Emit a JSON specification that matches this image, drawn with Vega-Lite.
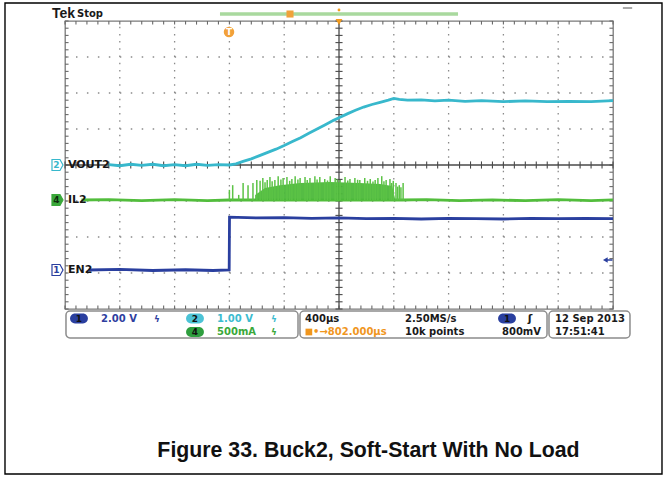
{
"$schema": "https://vega.github.io/schema/vega-lite/v6.json",
"width": 548, "height": 288,
"autosize": {"type": "none"},
"padding": {"left": 65, "top": 21, "right": 55, "bottom": 170},
"background": "#ffffff",
"config": {"view": {"stroke": "#7a7a7a", "strokeWidth": 1.3}},
"datasets": {
"gx": [{"g":-4},{"g":-3},{"g":-2},{"g":-1},{"g":1},{"g":2},{"g":3},{"g":4}],
"gy": [{"g":-3},{"g":-2},{"g":-1},{"g":1},{"g":2},{"g":3}],
"tx": [{"p":-5},{"p":-4.8},{"p":-4.6},{"p":-4.4},{"p":-4.2},{"p":-4},{"p":-3.8},{"p":-3.6},{"p":-3.4},{"p":-3.2},{"p":-3},{"p":-2.8},{"p":-2.6},{"p":-2.4},{"p":-2.2},{"p":-2},{"p":-1.8},{"p":-1.6},{"p":-1.4},{"p":-1.2},{"p":-1},{"p":-0.8},{"p":-0.6},{"p":-0.4},{"p":-0.2},{"p":0},{"p":0.2},{"p":0.4},{"p":0.6},{"p":0.8},{"p":1},{"p":1.2},{"p":1.4},{"p":1.6},{"p":1.8},{"p":2},{"p":2.2},{"p":2.4},{"p":2.6},{"p":2.8},{"p":3},{"p":3.2},{"p":3.4},{"p":3.6},{"p":3.8},{"p":4},{"p":4.2},{"p":4.4},{"p":4.6},{"p":4.8},{"p":5}],
"ty": [{"q":-4},{"q":-3.8},{"q":-3.6},{"q":-3.4},{"q":-3.2},{"q":-3},{"q":-2.8},{"q":-2.6},{"q":-2.4},{"q":-2.2},{"q":-2},{"q":-1.8},{"q":-1.6},{"q":-1.4},{"q":-1.2},{"q":-1},{"q":-0.8},{"q":-0.6},{"q":-0.4},{"q":-0.2},{"q":0},{"q":0.2},{"q":0.4},{"q":0.6},{"q":0.8},{"q":1},{"q":1.2},{"q":1.4},{"q":1.6},{"q":1.8},{"q":2},{"q":2.2},{"q":2.4},{"q":2.6},{"q":2.8},{"q":3},{"q":3.2},{"q":3.4},{"q":3.6},{"q":3.8},{"q":4}],
"vout": [{"t":-4.2,"v":0.01},{"t":-4.0,"v":-0.02},{"t":-3.8,"v":0.02},{"t":-3.6,"v":-0.01},{"t":-3.4,"v":0.02},{"t":-3.2,"v":-0.02},{"t":-3.0,"v":0.01},{"t":-2.8,"v":-0.02},{"t":-2.6,"v":0.02},{"t":-2.4,"v":-0.01},{"t":-2.2,"v":0.01},{"t":-2.0,"v":0},{"t":-1.88,"v":0.03},{"t":-1.75,"v":0.1},{"t":-1.6,"v":0.17},{"t":-1.45,"v":0.26},{"t":-1.3,"v":0.35},{"t":-1.15,"v":0.44},{"t":-1.0,"v":0.54},{"t":-0.85,"v":0.65},{"t":-0.7,"v":0.76},{"t":-0.55,"v":0.88},{"t":-0.4,"v":1.0},{"t":-0.25,"v":1.12},{"t":-0.1,"v":1.24},{"t":0,"v":1.31},{"t":0.15,"v":1.42},{"t":0.3,"v":1.52},{"t":0.45,"v":1.61},{"t":0.6,"v":1.68},{"t":0.75,"v":1.74},{"t":0.9,"v":1.8},{"t":1.0,"v":1.85},{"t":1.1,"v":1.82},{"t":1.25,"v":1.8},{"t":1.5,"v":1.81},{"t":1.75,"v":1.78},{"t":2.0,"v":1.8},{"t":2.3,"v":1.77},{"t":2.6,"v":1.79},{"t":3.0,"v":1.76},{"t":3.4,"v":1.78},{"t":3.8,"v":1.76},{"t":4.2,"v":1.77},{"t":4.6,"v":1.76},{"t":5.0,"v":1.79}],
"il": [{"t":-4.7,"v":-0.972},{"t":-4.2,"v":-0.96},{"t":-3.6,"v":-0.99},{"t":-3.0,"v":-0.96},{"t":-2.4,"v":-0.99},{"t":-2.0,"v":-0.972},{"t":1.15,"v":-0.972},{"t":1.6,"v":-0.96},{"t":2.2,"v":-0.99},{"t":2.8,"v":-0.97},{"t":3.4,"v":-0.99},{"t":4.0,"v":-0.96},{"t":4.6,"v":-0.99},{"t":5.0,"v":-0.97}],
"burst": [{"t":-1.53,"v":-0.83},{"t":-1.35,"v":-0.64},{"t":-1.08,"v":-0.56},{"t":-0.71,"v":-0.5},{"t":-0.16,"v":-0.47},{"t":0.38,"v":-0.5},{"t":0.75,"v":-0.53},{"t":0.97,"v":-0.58},{"t":1.02,"v":-0.92}],
"spk": [{"t":-2.0,"v":-0.69},{"t":-1.94,"v":-0.56},{"t":-1.83,"v":-0.83},{"t":-1.75,"v":-0.5},{"t":-1.66,"v":-0.56},{"t":-1.57,"v":-0.5},{"t":-1.5,"v":-0.42},{"t":-1.44,"v":-0.44},{"t":-1.39,"v":-0.36},{"t":-1.35,"v":-0.48},{"t":-1.31,"v":-0.42},{"t":-1.26,"v":-0.33},{"t":-1.22,"v":-0.45},{"t":-1.17,"v":-0.42},{"t":-1.11,"v":-0.31},{"t":-1.06,"v":-0.4},{"t":-1.02,"v":-0.36},{"t":-0.95,"v":-0.33},{"t":-0.9,"v":-0.44},{"t":-0.86,"v":-0.39},{"t":-0.8,"v":-0.31},{"t":-0.75,"v":-0.4},{"t":-0.71,"v":-0.36},{"t":-0.62,"v":-0.33},{"t":-0.58,"v":-0.42},{"t":-0.53,"v":-0.36},{"t":-0.44,"v":-0.31},{"t":-0.4,"v":-0.4},{"t":-0.35,"v":-0.33},{"t":-0.26,"v":-0.39},{"t":-0.21,"v":-0.43},{"t":-0.16,"v":-0.31},{"t":-0.07,"v":-0.36},{"t":-0.03,"v":-0.4},{"t":0.02,"v":-0.42},{"t":0.11,"v":-0.33},{"t":0.16,"v":-0.43},{"t":0.2,"v":-0.39},{"t":0.29,"v":-0.36},{"t":0.34,"v":-0.41},{"t":0.38,"v":-0.42},{"t":0.47,"v":-0.36},{"t":0.52,"v":-0.44},{"t":0.57,"v":-0.39},{"t":0.62,"v":-0.46},{"t":0.66,"v":-0.42},{"t":0.71,"v":-0.36},{"t":0.78,"v":-0.31},{"t":0.82,"v":-0.45},{"t":0.86,"v":-0.42},{"t":0.93,"v":-0.39},{"t":0.96,"v":-0.5},{"t":0.99,"v":-0.44},{"t":1.04,"v":-0.5},{"t":1.07,"v":-0.6},{"t":1.1,"v":-0.56},{"t":1.13,"v":-0.62},{"t":1.17,"v":-0.5}],
"en": [{"t":-4.57,"v":-2.917},{"t":-4.0,"v":-2.9},{"t":-3.4,"v":-2.93},{"t":-2.8,"v":-2.91},{"t":-2.3,"v":-2.93},{"t":-2.004,"v":-2.917},{"t":-1.998,"v":-1.45},{"t":-1.5,"v":-1.47},{"t":-1.0,"v":-1.46},{"t":-0.5,"v":-1.48},{"t":0,"v":-1.47},{"t":0.5,"v":-1.49},{"t":1,"v":-1.48},{"t":1.5,"v":-1.5},{"t":2,"v":-1.48},{"t":2.5,"v":-1.49},{"t":3,"v":-1.5},{"t":3.5,"v":-1.48},{"t":4,"v":-1.49},{"t":4.5,"v":-1.48},{"t":5.0,"v":-1.49}],
"chan": [{"ch":"2","name":"VOUT2","lvl":0},{"ch":"4","name":"IL2","lvl":-0.972},{"ch":"1","name":"EN2","lvl":-2.917}]
},
"layer": [
{"data":{"name":"gx"},"mark":{"type":"rule","color":"#8a8a8a","strokeWidth":1.3,"strokeDash":[1.5,5.7]},
 "encoding":{"x":{"field":"g","type":"quantitative","scale":{"domain":[-5,5],"nice":false,"zero":false},"axis":null},
  "y":{"datum":-4,"scale":{"domain":[-4,4],"nice":false,"zero":false},"axis":null},"y2":{"datum":4}}},
{"data":{"name":"gy"},"mark":{"type":"rule","color":"#8a8a8a","strokeWidth":1.3,"strokeDash":[1.5,9.46]},
 "encoding":{"y":{"field":"g","type":"quantitative","axis":null},"x":{"datum":-5,"axis":null},"x2":{"datum":5}}},
{"data":{"name":"tx"},"mark":{"type":"rule","color":"#4a4a4a","strokeWidth":1.1},
 "encoding":{"x":{"field":"p","type":"quantitative","axis":null},"y":{"datum":-0.1,"axis":null},"y2":{"datum":0.1}}},
{"data":{"name":"tx"},"mark":{"type":"rule","color":"#6a6a6a","strokeWidth":1.1},
 "encoding":{"x":{"field":"p","type":"quantitative","axis":null},"y":{"datum":3.9,"axis":null},"y2":{"datum":4}}},
{"data":{"name":"tx"},"mark":{"type":"rule","color":"#6a6a6a","strokeWidth":1.1},
 "encoding":{"x":{"field":"p","type":"quantitative","axis":null},"y":{"datum":-4,"axis":null},"y2":{"datum":-3.9}}},
{"data":{"name":"ty"},"mark":{"type":"rule","color":"#4a4a4a","strokeWidth":1.1},
 "encoding":{"y":{"field":"q","type":"quantitative","axis":null},"x":{"datum":-0.065,"axis":null},"x2":{"datum":0.065}}},
{"data":{"name":"ty"},"mark":{"type":"rule","color":"#6a6a6a","strokeWidth":1.1},
 "encoding":{"y":{"field":"q","type":"quantitative","axis":null},"x":{"datum":-5,"axis":null},"x2":{"datum":-4.935}}},
{"data":{"name":"ty"},"mark":{"type":"rule","color":"#6a6a6a","strokeWidth":1.1},
 "encoding":{"y":{"field":"q","type":"quantitative","axis":null},"x":{"datum":4.935,"axis":null},"x2":{"datum":5}}},
{"data":{"values":[{}]},"mark":{"type":"rule","color":"#4a4a4a","strokeWidth":1.3},
 "encoding":{"x":{"datum":-5,"axis":null},"x2":{"datum":5},"y":{"datum":0,"axis":null}}},
{"data":{"values":[{}]},"mark":{"type":"rule","color":"#4a4a4a","strokeWidth":1.3},
 "encoding":{"y":{"datum":-4,"axis":null},"y2":{"datum":4},"x":{"datum":0,"axis":null}}},
{"data":{"name":"en"},"mark":{"type":"line","color":"#2a3f9f","strokeWidth":2.8},
 "encoding":{"x":{"field":"t","type":"quantitative","axis":null},"y":{"field":"v","type":"quantitative","axis":null}}},
{"data":{"name":"il"},"mark":{"type":"line","color":"#52bd3c","strokeWidth":2.8},
 "encoding":{"x":{"field":"t","type":"quantitative","axis":null},"y":{"field":"v","type":"quantitative","axis":null}}},
{"data":{"name":"burst"},"mark":{"type":"area","color":"#4cb83a","opacity":0.95},
 "encoding":{"x":{"field":"t","type":"quantitative","axis":null},"y":{"field":"v","type":"quantitative","axis":null},"y2":{"datum":-0.972}}},
{"data":{"name":"spk"},"mark":{"type":"rule","color":"#5cc346","strokeWidth":1.5},
 "encoding":{"x":{"field":"t","type":"quantitative","axis":null},"y":{"field":"v","type":"quantitative","axis":null},"y2":{"datum":-0.972}}},
{"data":{"name":"vout"},"mark":{"type":"line","color":"#38b8cc","strokeWidth":2.8},
 "encoding":{"x":{"field":"t","type":"quantitative","axis":null},"y":{"field":"v","type":"quantitative","axis":null}}},
{"data":{"name":"chan"},"mark":{"type":"point","shape":"M-1,-1L0.45,-1L1,0L0.45,1L-1,1Z","size":121,"filled":true,"strokeWidth":1.2,"opacity":1},
 "encoding":{"x":{"datum":-5.137,"axis":null},"y":{"field":"lvl","type":"quantitative","axis":null},
  "fill":{"field":"ch","type":"nominal","scale":{"domain":["1","2","4"],"range":["#ffffff","#ffffff","#3aa83a"]},"legend":null},
  "stroke":{"field":"ch","type":"nominal","scale":{"domain":["1","2","4"],"range":["#2a3f9f","#38b8cc","#3aa83a"]},"legend":null}}},
{"data":{"name":"chan"},"mark":{"type":"text","font":"DejaVu Sans","fontWeight":"bold","fontSize":9,"align":"center","baseline":"middle","dx":-1},
 "encoding":{"x":{"datum":-5.137,"axis":null},"y":{"field":"lvl","type":"quantitative","axis":null},"text":{"field":"ch"},
  "color":{"field":"ch","type":"nominal","scale":{"domain":["1","2","4"],"range":["#2a3f9f","#38b8cc","#0d2d0d"]},"legend":null}}},
{"data":{"name":"chan"},"mark":{"type":"text","font":"DejaVu Sans","fontWeight":"bold","fontSize":11,"align":"left","baseline":"middle","color":"#161616"},
 "encoding":{"x":{"datum":-4.945,"axis":null},"y":{"field":"lvl","type":"quantitative","axis":null},"text":{"field":"name"}}},
{"data":{"values":[{}]},"mark":{"type":"point","shape":"triangle-left","size":30,"filled":true,"color":"#2a3f9f","opacity":1},
 "encoding":{"x":{"datum":4.86,"axis":null},"y":{"datum":-2.639,"axis":null}}},
{"data":{"values":[{}]},"mark":{"type":"rule","color":"#2a3f9f","strokeWidth":1.5},
 "encoding":{"x":{"datum":4.86,"axis":null},"x2":{"datum":4.99},"y":{"datum":-2.639,"axis":null}}},
{"data":{"values":[{}]},"mark":{"type":"text","text":"Tek","font":"Liberation Sans","fontWeight":"bold","fontSize":14,"align":"left","baseline":"middle","color":"#1a1a1a"},
 "encoding":{"x":{"datum":-5.237,"axis":null},"y":{"datum":4.194,"axis":null}}},
{"data":{"values":[{}]},"mark":{"type":"text","text":"Stop","font":"DejaVu Sans","fontWeight":"bold","fontSize":10,"align":"left","baseline":"middle","color":"#1a1a1a"},
 "encoding":{"x":{"datum":-4.781,"axis":null},"y":{"datum":4.194,"axis":null}}},
{"data":{"values":[{}]},"mark":{"type":"rule","color":"#a9d99e","strokeWidth":3.5},
 "encoding":{"x":{"datum":-2.172,"axis":null},"x2":{"datum":2.172},"y":{"datum":4.194,"axis":null}}},
{"data":{"values":[{}]},"mark":{"type":"point","shape":"square","size":50,"filled":true,"color":"#f0a23a","opacity":1},
 "encoding":{"x":{"datum":-0.894,"axis":null},"y":{"datum":4.194,"axis":null}}},
{"data":{"values":[{}]},"mark":{"type":"point","shape":"triangle-down","size":45,"filled":true,"color":"#f39c1e","opacity":1},
 "encoding":{"x":{"datum":0,"axis":null},"y":{"datum":3.972,"axis":null}}},
{"data":{"values":[{}]},"mark":{"type":"point","shape":"circle","size":8,"filled":true,"color":"#f39c1e","opacity":1},
 "encoding":{"x":{"datum":0,"axis":null},"y":{"datum":4.306,"axis":null}}},
{"data":{"values":[{}]},"mark":{"type":"point","shape":"circle","size":110,"filled":true,"color":"#f2a13a","opacity":1},
 "encoding":{"x":{"datum":-2.007,"axis":null},"y":{"datum":3.694,"axis":null}}},
{"data":{"values":[{}]},"mark":{"type":"text","text":"T","font":"DejaVu Sans","fontWeight":"bold","fontSize":9,"align":"center","baseline":"middle","color":"#ffffff"},
 "encoding":{"x":{"datum":-2.007,"axis":null},"y":{"datum":3.694,"axis":null}}},
{"data":{"values":[{}]},"mark":{"type":"rule","color":"#8c8c8c","strokeWidth":1.5},
 "encoding":{"x":{"datum":5.18,"axis":null},"x2":{"datum":5.35},"y":{"datum":4.361,"axis":null}}},
{"data":{"values":[{}]},"mark":{"type":"rect","cornerRadius":4,"fill":"#ffffff","stroke":"#8c8c8c","strokeWidth":1.5},
 "encoding":{"x":{"datum":-4.982,"axis":null},"x2":{"datum":-0.748},"y":{"datum":-4.056,"axis":null},"y2":{"datum":-4.806}}},
{"data":{"values":[{}]},"mark":{"type":"rect","cornerRadius":4,"fill":"#ffffff","stroke":"#8c8c8c","strokeWidth":1.5},
 "encoding":{"x":{"datum":-0.712,"axis":null},"x2":{"datum":3.796},"y":{"datum":-4.056,"axis":null},"y2":{"datum":-4.806}}},
{"data":{"values":[{}]},"mark":{"type":"rect","cornerRadius":4,"fill":"#ffffff","stroke":"#8c8c8c","strokeWidth":1.5},
 "encoding":{"x":{"datum":3.832,"axis":null},"x2":{"datum":5.31},"y":{"datum":-4.056,"axis":null},"y2":{"datum":-4.806}}},
{"data":{"values":[{}]},"mark":{"type":"point","shape":"M-0.44,-0.55L0.44,-0.55A0.55,0.55,0,0,1,0.44,0.55L-0.44,0.55A0.55,0.55,0,0,1,-0.44,-0.55Z","size":324,"filled":true,"color":"#2a3f9f","opacity":1},
 "encoding":{"x":{"datum":-4.745,"axis":null},"y":{"datum":-4.264,"axis":null}}},
{"data":{"values":[{}]},"mark":{"type":"point","shape":"M-0.44,-0.55L0.44,-0.55A0.55,0.55,0,0,1,0.44,0.55L-0.44,0.55A0.55,0.55,0,0,1,-0.44,-0.55Z","size":324,"filled":true,"color":"#4cc3d6","opacity":1},
 "encoding":{"x":{"datum":-2.628,"axis":null},"y":{"datum":-4.264,"axis":null}}},
{"data":{"values":[{}]},"mark":{"type":"point","shape":"M-0.44,-0.55L0.44,-0.55A0.55,0.55,0,0,1,0.44,0.55L-0.44,0.55A0.55,0.55,0,0,1,-0.44,-0.55Z","size":324,"filled":true,"color":"#2e9e3e","opacity":1},
 "encoding":{"x":{"datum":-2.628,"axis":null},"y":{"datum":-4.639,"axis":null}}},
{"data":{"values":[{}]},"mark":{"type":"point","shape":"M-0.44,-0.55L0.44,-0.55A0.55,0.55,0,0,1,0.44,0.55L-0.44,0.55A0.55,0.55,0,0,1,-0.44,-0.55Z","size":324,"filled":true,"color":"#2a3f9f","opacity":1},
 "encoding":{"x":{"datum":3.066,"axis":null},"y":{"datum":-4.264,"axis":null}}},
{"data":{"values":[{}]},"mark":{"type":"text","text":"1","font":"DejaVu Sans","fontWeight":"bold","fontSize":9,"align":"center","baseline":"middle","color":"#111111"},
 "encoding":{"x":{"datum":-4.745,"axis":null},"y":{"datum":-4.264,"axis":null}}},
{"data":{"values":[{}]},"mark":{"type":"text","text":"2","font":"DejaVu Sans","fontWeight":"bold","fontSize":9,"align":"center","baseline":"middle","color":"#111111"},
 "encoding":{"x":{"datum":-2.628,"axis":null},"y":{"datum":-4.264,"axis":null}}},
{"data":{"values":[{}]},"mark":{"type":"text","text":"4","font":"DejaVu Sans","fontWeight":"bold","fontSize":9,"align":"center","baseline":"middle","color":"#111111"},
 "encoding":{"x":{"datum":-2.628,"axis":null},"y":{"datum":-4.639,"axis":null}}},
{"data":{"values":[{}]},"mark":{"type":"text","text":"1","font":"DejaVu Sans","fontWeight":"bold","fontSize":9,"align":"center","baseline":"middle","color":"#111111"},
 "encoding":{"x":{"datum":3.066,"axis":null},"y":{"datum":-4.264,"axis":null}}},
{"data":{"values":[{}]},"mark":{"type":"text","text":"2.00 V","font":"DejaVu Sans","fontWeight":"bold","fontSize":10,"align":"left","baseline":"middle","color":"#2f3f9f"},
 "encoding":{"x":{"datum":-4.343,"axis":null},"y":{"datum":-4.264,"axis":null}}},
{"data":{"values":[{}]},"mark":{"type":"text","text":"ϟ","font":"DejaVu Sans","fontWeight":"bold","fontSize":9,"align":"center","baseline":"middle","color":"#2f3f9f"},
 "encoding":{"x":{"datum":-3.321,"axis":null},"y":{"datum":-4.264,"axis":null}}},
{"data":{"values":[{}]},"mark":{"type":"text","text":"1.00 V","font":"DejaVu Sans","fontWeight":"bold","fontSize":10,"align":"left","baseline":"middle","color":"#3cbcd0"},
 "encoding":{"x":{"datum":-2.226,"axis":null},"y":{"datum":-4.264,"axis":null}}},
{"data":{"values":[{}]},"mark":{"type":"text","text":"ϟ","font":"DejaVu Sans","fontWeight":"bold","fontSize":9,"align":"center","baseline":"middle","color":"#3cbcd0"},
 "encoding":{"x":{"datum":-1.186,"axis":null},"y":{"datum":-4.264,"axis":null}}},
{"data":{"values":[{}]},"mark":{"type":"text","text":"500mA","font":"DejaVu Sans","fontWeight":"bold","fontSize":10,"align":"left","baseline":"middle","color":"#3aa83a"},
 "encoding":{"x":{"datum":-2.226,"axis":null},"y":{"datum":-4.639,"axis":null}}},
{"data":{"values":[{}]},"mark":{"type":"text","text":"ϟ","font":"DejaVu Sans","fontWeight":"bold","fontSize":9,"align":"center","baseline":"middle","color":"#3aa83a"},
 "encoding":{"x":{"datum":-1.186,"axis":null},"y":{"datum":-4.639,"axis":null}}},
{"data":{"values":[{}]},"mark":{"type":"text","text":"400µs","font":"DejaVu Sans","fontWeight":"bold","fontSize":10,"align":"left","baseline":"middle","color":"#1a1a1a"},
 "encoding":{"x":{"datum":-0.62,"axis":null},"y":{"datum":-4.264,"axis":null}}},
{"data":{"values":[{}]},"mark":{"type":"point","shape":"square","size":45,"filled":true,"color":"#f0961e","opacity":1},
 "encoding":{"x":{"datum":-0.55,"axis":null},"y":{"datum":-4.639,"axis":null}}},
{"data":{"values":[{}]},"mark":{"type":"text","text":"•→802.000µs","font":"DejaVu Sans","fontWeight":"bold","fontSize":10,"align":"left","baseline":"middle","color":"#f0961e"},
 "encoding":{"x":{"datum":-0.474,"axis":null},"y":{"datum":-4.639,"axis":null}}},
{"data":{"values":[{}]},"mark":{"type":"text","text":"2.50MS/s","font":"DejaVu Sans","fontWeight":"bold","fontSize":10,"align":"left","baseline":"middle","color":"#1a1a1a"},
 "encoding":{"x":{"datum":1.204,"axis":null},"y":{"datum":-4.264,"axis":null}}},
{"data":{"values":[{}]},"mark":{"type":"text","text":"10k points","font":"DejaVu Sans","fontWeight":"bold","fontSize":10,"align":"left","baseline":"middle","color":"#1a1a1a"},
 "encoding":{"x":{"datum":1.204,"axis":null},"y":{"datum":-4.639,"axis":null}}},
{"data":{"values":[{}]},"mark":{"type":"text","text":"ʃ","font":"DejaVu Sans","fontWeight":"bold","fontSize":11,"align":"center","baseline":"middle","color":"#1a1a1a"},
 "encoding":{"x":{"datum":3.485,"axis":null},"y":{"datum":-4.264,"axis":null}}},
{"data":{"values":[{}]},"mark":{"type":"text","text":"800mV","font":"DejaVu Sans","fontWeight":"bold","fontSize":10,"align":"left","baseline":"middle","color":"#1a1a1a"},
 "encoding":{"x":{"datum":2.974,"axis":null},"y":{"datum":-4.639,"axis":null}}},
{"data":{"values":[{}]},"mark":{"type":"text","text":"12 Sep  2013","font":"DejaVu Sans","fontWeight":"bold","fontSize":10,"align":"left","baseline":"middle","color":"#1a1a1a"},
 "encoding":{"x":{"datum":3.942,"axis":null},"y":{"datum":-4.264,"axis":null}}},
{"data":{"values":[{}]},"mark":{"type":"text","text":"17:51:41","font":"DejaVu Sans","fontWeight":"bold","fontSize":10,"align":"left","baseline":"middle","color":"#1a1a1a"},
 "encoding":{"x":{"datum":3.942,"axis":null},"y":{"datum":-4.639,"axis":null}}},
{"data":{"values":[{}]},"mark":{"type":"text","text":"Figure 33. Buck2, Soft-Start With No Load","font":"Liberation Sans","fontWeight":"bold","fontSize":21.3,"align":"center","baseline":"alphabetic","color":"#111111"},
 "encoding":{"x":{"datum":0.538,"axis":null},"y":{"datum":-8.1,"axis":null}}},
{"data":{"values":[{}]},"mark":{"type":"rect","fill":"#ffffff","fillOpacity":0,"stroke":"#000000","strokeWidth":1.4},
 "encoding":{"x":{"datum":-6.095,"axis":null},"x2":{"datum":5.894},"y":{"datum":4.5,"axis":null},"y2":{"datum":-8.583}}}
]
}
